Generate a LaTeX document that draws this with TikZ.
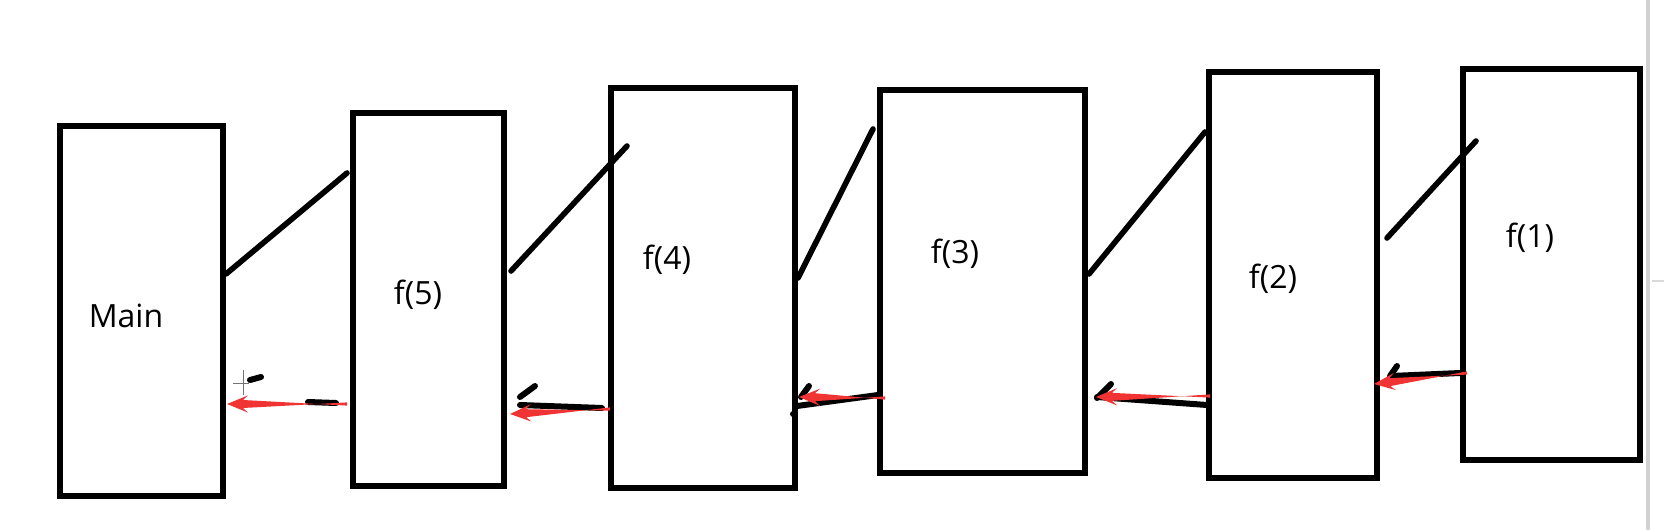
\documentclass[tikz,border=0pt]{standalone}
\usepackage{fontspec}
\setmainfont{Open Sans}
\usetikzlibrary{calc}
\definecolor{arrowred}{RGB}{240,52,52}
\newcommand\redarr[2]{%
  \coordinate (rB) at ($(#2)!10.5pt!(#1)$);
  \coordinate (rN) at ($(#2)!8pt!(#1)$);
  \fill[arrowred] ($(#1)!0.8pt!90:(#2)$) -- ($(rN)!2pt!-90:(#2)$) -- ($(rB)!4.3pt!-90:(#2)$)
     -- (#2) -- ($(rB)!4.3pt!90:(#2)$) -- ($(rN)!2pt!90:(#2)$) -- ($(#1)!0.8pt!-90:(#2)$) -- cycle;
}
\begin{document}
\begin{tikzpicture}[x=0.5pt,y=-0.5pt,
  box/.style={draw, line width=2.8pt, inner sep=0pt, outer sep=0pt},
  lbl/.style={font=\fontsize{16}{19}\selectfont, inner sep=0pt},
  link/.style={line width=2.8pt, line cap=round},
  scrib/.style={line width=3pt, line cap=round}]
\useasboundingbox (0,0) rectangle (1666,530);
\fill[white] (0,0) rectangle (1666,530);
% screenshot edge
\draw[black!18, line width=2pt] (1648,0) -- (1648,530);
\draw[black!15, line width=0.8pt] (1652,281) -- (1664,281);
% boxes
\node[box, minimum width=81.5pt, minimum height=185pt] (main) at (141.5,311) {};
\node[box, minimum width=75.5pt, minimum height=186.5pt] (f5) at (428.5,299.5) {};
\node[box, minimum width=92pt, minimum height=200pt] (f4) at (703,288) {};
\node[box, minimum width=102.5pt, minimum height=191.5pt] (f3) at (982.5,281.5) {};
\node[box, minimum width=84pt, minimum height=203pt] (f2) at (1293,275) {};
\node[box, minimum width=88.5pt, minimum height=195.5pt] (f1) at (1551.5,264.5) {};
% labels
\node[lbl] (tmain) at (126,316) {Main};
\node[lbl] (t5) at (418,295) {f(5)};
\node[lbl] (t4) at (667,260) {f(4)};
\node[lbl] (t3) at (955,254) {f(3)};
\node[lbl] (t2) at (1273,279) {f(2)};
\node[lbl] (t1) at (1530,238) {f(1)};
% diagonal call lines
\coordinate (a1) at (226,274); \coordinate (b1) at (347,173);
\coordinate (a2) at (511,271); \coordinate (b2) at (627,146);
\coordinate (a3) at (798,278); \coordinate (b3) at (873,129);
\coordinate (a4) at (1089,274); \coordinate (b4) at (1205,132);
\coordinate (a5) at (1387,238); \coordinate (b5) at (1476,141);
\draw[link] (a1) -- (b1);
\draw[link] (a2) -- (b2);
\draw[link] (a3) -- (b3);
\draw[link] (a4) -- (b4);
\draw[link] (a5) -- (b5);
% black return scribbles
\coordinate (k1a) at (308,402); \coordinate (k1b) at (336,403);
\coordinate (c1a) at (250,380); \coordinate (c1b) at (261,377);
\coordinate (k2a) at (520,405); \coordinate (k2b) at (602,408);
\coordinate (m2a) at (520,397); \coordinate (m2b) at (535,386);
\coordinate (k3a) at (797,406); \coordinate (k3b) at (878,395);
\coordinate (m3a) at (801,397); \coordinate (m3b) at (809,386);
\coordinate (m3c) at (793,414);
\coordinate (k4a) at (1097,397); \coordinate (k4b) at (1207,405);
\coordinate (m4a) at (1097,398); \coordinate (m4b) at (1111,384);
\coordinate (k5a) at (1391,376); \coordinate (k5b) at (1460,373);
\coordinate (m5a) at (1390,376); \coordinate (m5b) at (1397,366);
\draw[scrib] (k1a) -- (k1b);
\draw[line width=3pt, line cap=round] (c1a) -- (c1b);
\draw[scrib] (k2a) -- (k2b);
\draw[scrib] (m2a) -- (m2b);
\draw[scrib] (k3a) -- (k3b);
\draw[scrib] (m3a) -- (m3b);
\fill (m3c) circle (1.5pt);
\draw[scrib] (k4a) -- (k4b);
\draw[scrib] (m4a) -- (m4b);
\draw[scrib] (k5a) -- (k5b);
\draw[scrib] (m5a) -- (m5b);
% cursor artifact
\coordinate (x1) at (243,370); \coordinate (x2) at (243,395);
\coordinate (x3) at (233,383); \coordinate (x4) at (249,383);
\draw[black!55, line width=0.5pt] (x1) -- (x2);
\draw[black!55, line width=0.5pt] (x3) -- (x4);
% red return arrows
\coordinate (r1t) at (347,404); \coordinate (r1p) at (227,404);
\coordinate (r2t) at (610,409); \coordinate (r2p) at (510,414);
\coordinate (r3t) at (885,398); \coordinate (r3p) at (799,397);
\coordinate (r4t) at (1210,396); \coordinate (r4p) at (1096,397);
\coordinate (r5t) at (1467,373); \coordinate (r5p) at (1374,384);
\redarr{r1t}{r1p}
\redarr{r2t}{r2p}
\redarr{r3t}{r3p}
\redarr{r4t}{r4p}
\redarr{r5t}{r5p}
\end{tikzpicture}
\end{document}
